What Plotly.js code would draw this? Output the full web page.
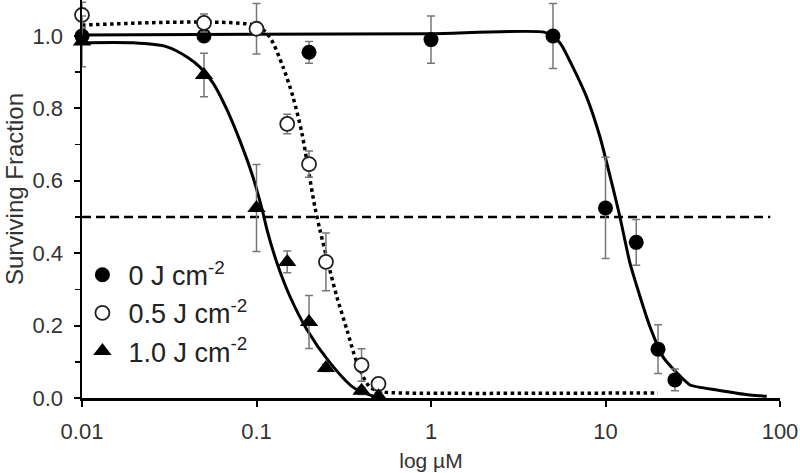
<!DOCTYPE html>
<html>
<head>
<meta charset="utf-8">
<script src="https://cdn.plot.ly/plotly-3.0.1.min.js"></script>
<style>html,body{margin:0;padding:0;background:#fff;}#chart{width:800px;height:473px;}</style>
</head>
<body>
<div id="chart"></div>
<script>
// Measured points (concentration in µM, surviving fraction, error)
const doseNames = ['0 J cm<sup>-2</sup>', '0.5 J cm<sup>-2</sup>', '1.0 J cm<sup>-2</sup>'];

const x0 = [0.01, 0.05, 0.2, 1, 5, 10, 15, 20, 25];
const y0 = [1.0, 1.0, 0.955, 0.99, 1.0, 0.525, 0.43, 0.135, 0.05];
const e0 = [0.02, 0.01, 0.03, 0.065, 0.09, 0.14, 0.063, 0.067, 0.03];

const x05 = [0.01, 0.05, 0.1, 0.15, 0.2, 0.25, 0.4, 0.5];
const y05 = [1.058, 1.036, 1.02, 0.757, 0.646, 0.376, 0.091, 0.039];
const e05 = [0.035, 0.025, 0.07, 0.027, 0.036, 0.08, 0.045, 0.015];

const x1 = [0.01, 0.05, 0.1, 0.15, 0.2, 0.25, 0.4, 0.5];
const y1 = [0.985, 0.892, 0.525, 0.376, 0.21, 0.083, 0.02, 0.005];
const e1 = [0.07, 0.06, 0.12, 0.03, 0.073, 0.01, 0.01, 0.01];

// Fitted curves
const fit0x = [0.01, 1, 4.5, 5.5, 6.5, 7.8, 9.3, 11.0, 12.1, 13.8, 15.8, 18.0, 21.4, 25.7, 30.5, 43.5, 67.3, 84];
const fit0y = [1.003, 1.006, 1.01, 0.98, 0.914, 0.831, 0.721, 0.583, 0.5, 0.373, 0.279, 0.196, 0.113, 0.069, 0.036, 0.022, 0.008, 0.005];

const fit05x = [0.01, 0.1, 0.119, 0.142, 0.162, 0.182, 0.197, 0.216, 0.231, 0.257, 0.289, 0.330, 0.377, 0.447, 0.531, 0.663, 20];
const fit05y = [1.03, 1.028, 0.997, 0.914, 0.831, 0.732, 0.638, 0.528, 0.464, 0.373, 0.279, 0.188, 0.097, 0.030, 0.017, 0.014, 0.014];

const fit1x = [0.01, 0.0196, 0.0307, 0.040, 0.0474, 0.0564, 0.0678, 0.080, 0.0955, 0.109, 0.115, 0.131, 0.156, 0.195, 0.264, 0.357, 0.447, 0.511];
const fit1y = [0.981, 0.981, 0.97, 0.942, 0.914, 0.87, 0.796, 0.713, 0.61, 0.511, 0.464, 0.373, 0.279, 0.188, 0.097, 0.030, 0.008, 0.003];

const halfX = [0.01, 88];
const halfY = [0.5, 0.5];

const xTickVals = [0.01, 0.1, 1, 10, 100];
const xTickText = ['0.01', '0.1', '1', '10', '100'];
const yTitle = 'Surviving Fraction';
const xTitle = 'log µM';

const errStyle = (arr) => ({type: 'data', array: arr, visible: true, color: '#777', thickness: 1.5, width: 4});

const traces = [
  {x: halfX, y: halfY, mode: 'lines', line: {color: '#000', width: 2.5, dash: '9px,5px'}, showlegend: false, hoverinfo: 'skip'},
  {x: fit0x, y: fit0y, mode: 'lines', line: {color: '#000', width: 3, shape: 'spline', smoothing: 0.5}, showlegend: false},
  {x: fit05x, y: fit05y, mode: 'lines', line: {color: '#000', width: 3.5, dash: 'dot', shape: 'spline', smoothing: 0.8}, showlegend: false},
  {x: fit1x, y: fit1y, mode: 'lines', line: {color: '#000', width: 3, shape: 'spline', smoothing: 0.8}, showlegend: false},
  {x: x0, y: y0, name: doseNames[0], mode: 'markers', legendgroup: 'a',
   marker: {symbol: 'circle', size: 15, color: '#000'}, error_y: errStyle(e0), cliponaxis: false},
  {x: x05, y: y05, name: doseNames[1], mode: 'markers', legendgroup: 'b',
   marker: {symbol: 'circle', size: 14, color: '#fff', line: {color: '#222', width: 1.8}}, error_y: errStyle(e05), cliponaxis: false},
  {x: x1, y: y1, name: doseNames[2], mode: 'markers', legendgroup: 'c',
   marker: {symbol: 'triangle-up', size: 16, color: '#000'}, error_y: errStyle(e1), cliponaxis: false}
];

const layout = {
  width: 800, height: 473,
  margin: {l: 82, r: 20, t: 0, b: 75, pad: 0},
  paper_bgcolor: '#fff', plot_bgcolor: '#fff',
  font: {family: 'Liberation Sans, Arial, sans-serif', color: '#333', size: 22},
  showlegend: true,
  legend: {x: -0.008, y: 0.37, xanchor: 'left', yanchor: 'top', bgcolor: 'rgba(0,0,0,0)',
           font: {size: 27, color: '#222'}, traceorder: 'grouped', tracegroupgap: 0, itemwidth: 42},
  xaxis: {
    type: 'log', range: [-2, 2], tickmode: 'array', tickvals: xTickVals, ticktext: xTickText,
    showgrid: false, zeroline: false, showline: true, linecolor: '#000', linewidth: 2.5,
    ticks: 'outside', ticklen: 6, tickwidth: 2, tickcolor: '#000', ticklabelstandoff: 6,
    tickfont: {size: 22, color: '#333'},
    title: {text: xTitle, font: {size: 21, color: '#333'}, standoff: 11}
  },
  yaxis: {
    range: [0, 1.0994], tickmode: 'linear', tick0: 0, dtick: 0.2, tickformat: '.1f',
    showgrid: false, zeroline: false, showline: true, linecolor: '#000', linewidth: 2.5,
    ticks: 'outside', ticklen: 6, tickwidth: 2, tickcolor: '#000', ticklabelstandoff: 6,
    minor: {dtick: 0.1, tick0: 0, ticks: 'outside', ticklen: 5, tickwidth: 1.5, tickcolor: '#000'},
    tickfont: {size: 22, color: '#333'}
  },
  annotations: [{
    text: yTitle, textangle: -90, xref: 'paper', yref: 'paper',
    x: -0.0974, y: 0.525, xanchor: 'center', yanchor: 'middle', showarrow: false,
    font: {size: 24, color: '#333'}
  }]
};

Plotly.newPlot('chart', traces, layout, {staticPlot: true, displayModeBar: false});
</script>
</body>
</html>
